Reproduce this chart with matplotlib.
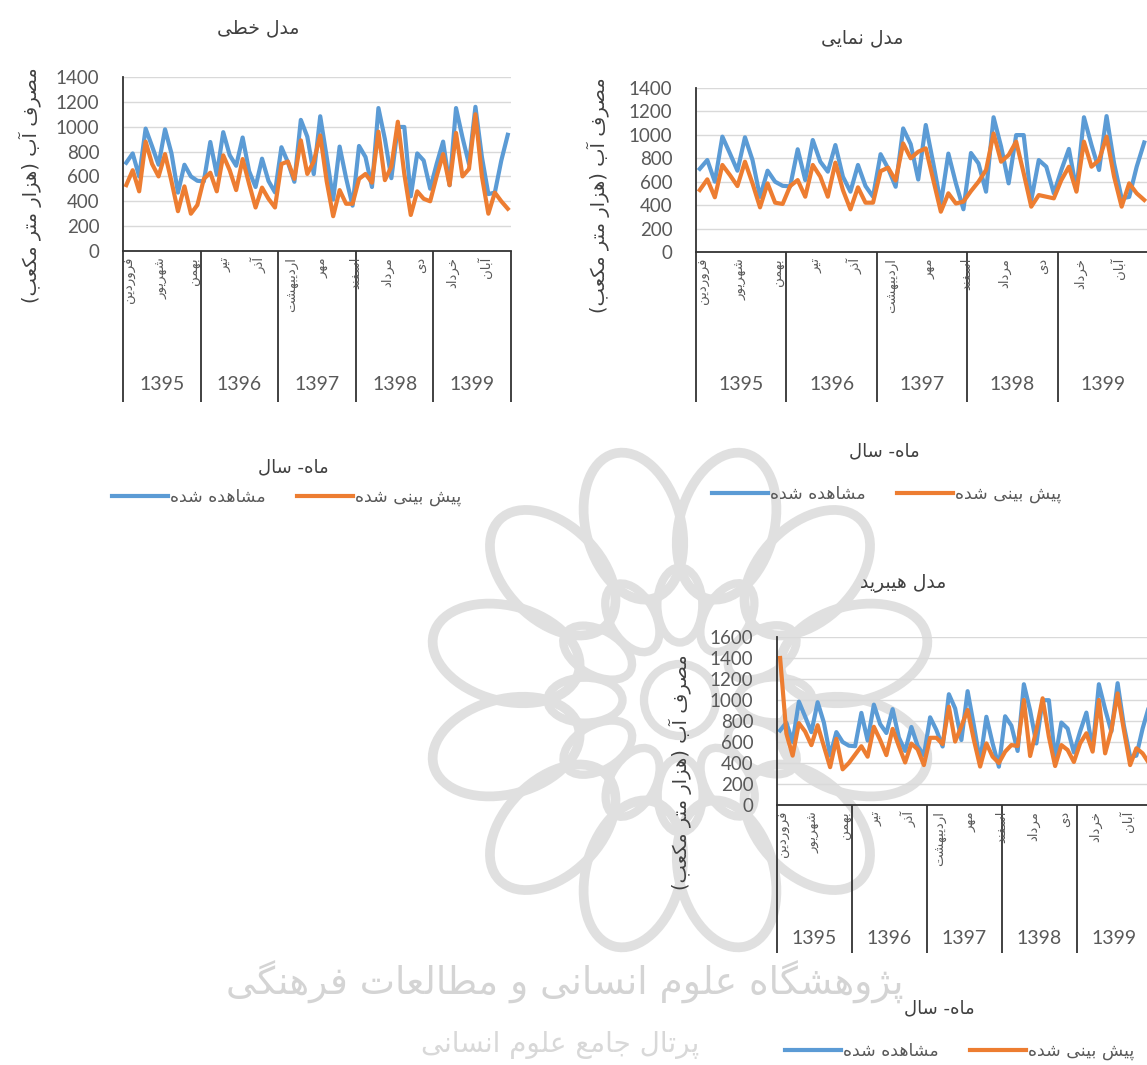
import numpy as np
import matplotlib
matplotlib.use("Agg")
import matplotlib.pyplot as plt
from matplotlib.patches import Ellipse, Circle

# ---- data ----
years = ["1395", "1396", "1397", "1398", "1399"]
months = ["فروردین", "اردیبهشت", "خرداد", "تیر", "مرداد", "شهریور",
          "مهر", "آبان", "آذر", "دی", "بهمن", "اسفند"]

observed = [710, 785, 600, 985, 842, 694, 979, 785, 470, 694, 600, 565,
            560, 877, 614, 956, 771, 686, 913, 643, 515, 743, 563, 472,
            835, 714, 557, 1055, 920, 619, 1084, 756, 414, 840, 586, 365,
            845, 756, 515, 1150, 900, 586, 998, 998, 440, 785, 728, 501,
            700, 880, 529, 1150, 913, 700, 1160, 756, 458, 470, 728, 935]

pred_linear = [530, 650, 480, 880, 700, 600, 780, 560, 320, 520, 300, 370,
               580, 630, 480, 770, 650, 490, 740, 540, 350, 510, 420, 350,
               700, 720, 580, 890, 620, 720, 930, 560, 280, 490, 380, 380,
               580, 620, 550, 960, 570, 680, 1040, 620, 290, 480, 420, 400,
               600, 780, 530, 950, 600, 660, 1100, 600, 300, 470, 400, 340]

pred_expo = [529, 620, 467, 743, 657, 563, 771, 586, 381, 586, 421, 410,
             563, 614, 472, 743, 643, 472, 763, 529, 364, 552, 421, 421,
             690, 720, 610, 927, 800, 856, 885, 614, 344, 501, 414, 430,
             520, 600, 700, 1012, 771, 828, 942, 672, 387, 486, 472, 458,
             614, 728, 515, 942, 728, 785, 985, 643, 387, 586, 501, 444]

pred_hybrid = [1400, 680, 470, 780, 700, 570, 760, 560, 360, 630, 340, 400,
               480, 560, 460, 745, 620, 475, 725, 560, 405, 585, 530, 380,
               640, 640, 580, 936, 604, 750, 905, 620, 366, 587, 460, 400,
               508, 571, 562, 1000, 467, 714, 1016, 650, 371, 571, 524, 410,
               587, 683, 508, 1000, 492, 714, 1063, 714, 380, 540, 492, 400]

# ---- persian shaping (matplotlib has no arabic text layout) ----
FORMS = {
    "ا": ("\uFE8D", "\uFE8E", None, None),
    "آ": ("\uFE81", "\uFE82", None, None),
    "ب": ("\uFE8F", "\uFE90", "\uFE91", "\uFE92"),
    "پ": ("\uFB56", "\uFB57", "\uFB58", "\uFB59"),
    "ت": ("\uFE95", "\uFE96", "\uFE97", "\uFE98"),
    "ج": ("\uFE9D", "\uFE9E", "\uFE9F", "\uFEA0"),
    "خ": ("\uFEA5", "\uFEA6", "\uFEA7", "\uFEA8"),
    "د": ("\uFEA9", "\uFEAA", None, None),
    "ذ": ("\uFEAB", "\uFEAC", None, None),
    "ر": ("\uFEAD", "\uFEAE", None, None),
    "ز": ("\uFEAF", "\uFEB0", None, None),
    "ژ": ("\uFB8A", "\uFB8B", None, None),
    "س": ("\uFEB1", "\uFEB2", "\uFEB3", "\uFEB4"),
    "ش": ("\uFEB5", "\uFEB6", "\uFEB7", "\uFEB8"),
    "ص": ("\uFEB9", "\uFEBA", "\uFEBB", "\uFEBC"),
    "ط": ("\uFEC1", "\uFEC2", "\uFEC3", "\uFEC4"),
    "ع": ("\uFEC9", "\uFECA", "\uFECB", "\uFECC"),
    "ف": ("\uFED1", "\uFED2", "\uFED3", "\uFED4"),
    "ک": ("\uFB8E", "\uFB8F", "\uFB90", "\uFB91"),
    "گ": ("\uFB92", "\uFB93", "\uFB94", "\uFB95"),
    "ل": ("\uFEDD", "\uFEDE", "\uFEDF", "\uFEE0"),
    "م": ("\uFEE1", "\uFEE2", "\uFEE3", "\uFEE4"),
    "ن": ("\uFEE5", "\uFEE6", "\uFEE7", "\uFEE8"),
    "ه": ("\uFEE9", "\uFEEA", "\uFEEB", "\uFEEC"),
    "و": ("\uFEED", "\uFEEE", None, None),
    "ی": ("\uFBFC", "\uFBFD", "\uFBFE", "\uFBFF"),
}


def fa(text):
    out = []
    for i, c in enumerate(text):
        if c not in FORMS:
            out.append(c)
            continue
        iso, fin, ini, med = FORMS[c]
        prev = text[i - 1] if i > 0 else ""
        nxt = text[i + 1] if i + 1 < len(text) else ""
        jp = prev in FORMS and FORMS[prev][2] is not None
        jn = nxt in FORMS and ini is not None
        if jp and jn:
            out.append(med)
        elif jp:
            out.append(fin)
        elif jn:
            out.append(ini)
        else:
            out.append(iso)
    s = "".join(out)[::-1]
    return s.translate(str.maketrans("()", ")("))


W, H = 1147, 1065
BLUE = "#5B9BD5"
ORANGE = "#ED7D31"
GREY = "#595959"
DARK = "#333333"
WM = "#e0e0e0"
NUMFONT = "Lato"
FAFONT = ["DejaVu Sans"]

fig = plt.figure(figsize=(W / 100, H / 100), dpi=100)

# background watermark
bg = fig.add_axes([0, 0, 1, 1], zorder=0)
bg.set_xlim(0, W)
bg.set_ylim(H, 0)
bg.axis("off")
cx, cy = 680, 700
for k in range(12):
    a = np.deg2rad(k * 30 + 15)
    bg.add_patch(Ellipse((cx + 180 * np.cos(a), cy + 180 * np.sin(a)), 150, 95,
                         angle=np.rad2deg(a), fill=False, ec=WM, lw=7))
    bg.add_patch(Ellipse((cx + 95 * np.cos(a + 0.26), cy + 95 * np.sin(a + 0.26)), 75, 45,
                         angle=np.rad2deg(a + 0.26), fill=False, ec=WM, lw=6))
bg.add_patch(Circle((cx, cy), 36, fill=False, ec=WM, lw=6))
bg.text(565, 982, fa("پژوهشگاه علوم انسانی و مطالعات فرهنگی"), ha="center", va="center",
        fontsize=27, color="#d4d4d4", family=FAFONT)
bg.text(560, 1045, fa("پرتال جامع علوم انسانی"), ha="center", va="center",
        fontsize=20, color="#d8d8d8", family=FAFONT)


def chart(l, t, r, b, pred, ymax, title_xy, ylab_xy, xlab_xy, leg_xy,
          month_top, year_y, box_bottom, title):
    ax = fig.add_axes([l / W, 1 - b / H, (r - l) / W, (b - t) / H], zorder=2)
    ax.set_facecolor("none")
    x = np.arange(len(observed))
    l1, = ax.plot(x, observed, color=BLUE, lw=3.0, solid_joinstyle="round", label=fa("مشاهده شده"))
    l2, = ax.plot(x, pred, color=ORANGE, lw=3.0, solid_joinstyle="round", label=fa("پیش بینی شده"))
    ax.set_xlim(-0.5, len(observed) - 0.5)
    ax.set_ylim(0, ymax)
    ax.set_yticks(np.arange(0, ymax + 1, 200))
    ax.set_xticks([])
    ax.grid(axis="y", color="#d9d9d9", lw=1)
    ax.set_axisbelow(True)
    for s in ["top", "right"]:
        ax.spines[s].set_visible(False)
    for s in ["left", "bottom"]:
        ax.spines[s].set_color(DARK)
        ax.spines[s].set_linewidth(1.3)
    ax.tick_params(axis="y", length=0, pad=17, labelsize=13.5, labelcolor=GREY)
    for lab in ax.get_yticklabels():
        lab.set_family(NUMFONT)

    def ya(py):
        return (b - py) / (b - t)

    tr = ax.get_xaxis_transform()
    ax.vlines([12 * k - 0.5 for k in range(6)], ya(box_bottom), 0, transform=tr,
              colors=DARK, lw=1.3, clip_on=False)
    for i in range(0, len(observed), 5):
        ax.text(i + 0.5, ya(month_top), fa(months[i % 12]), rotation=90, ha="center", va="top",
                transform=tr, fontsize=9.5, color=GREY, family=FAFONT, clip_on=False)
    for k, yr in enumerate(years):
        ax.text(12 * k + 5.5, ya(year_y), yr, ha="center", va="center", transform=tr,
                fontsize=14, color=GREY, family=NUMFONT, clip_on=False)

    fig.text(title_xy[0] / W, 1 - title_xy[1] / H, fa(title), ha="center", va="center",
             fontsize=13.5, color="#404040", family=FAFONT)
    fig.text(ylab_xy[0] / W, 1 - ylab_xy[1] / H, fa("مصرف آب (هزار متر مکعب)"), rotation=90,
             ha="center", va="center", fontsize=14, color="#404040", family=FAFONT)
    fig.text(xlab_xy[0] / W, 1 - xlab_xy[1] / H, fa("ماه- سال"), ha="center", va="center",
             fontsize=13, color="#404040", family=FAFONT)
    fig.legend(handles=[l1, l2], loc="center", bbox_to_anchor=(leg_xy[0] / W, 1 - leg_xy[1] / H),
               ncol=2, frameon=False, handlelength=3.2, handletextpad=0.15, columnspacing=1.8,
               prop={"family": FAFONT, "size": 12.5}, labelcolor=GREY)
    return ax


chart(123, 77, 511, 251, pred_linear, 1400, (258, 28), (30, 185), (293, 467), (287, 497),
      257, 385, 402, "مدل خطی")
chart(696, 88, 1148, 252, pred_expo, 1400, (862, 38), (598, 195), (884, 451), (887, 494),
      258, 385, 402, "مدل نمایی")
chart(777, 637, 1152, 805, pred_hybrid, 1600, (903, 583), (680, 772), (939, 1008), (960, 1051),
      811, 938, 953, "مدل هیبرید")

fig.savefig("out.png", dpi=100)
